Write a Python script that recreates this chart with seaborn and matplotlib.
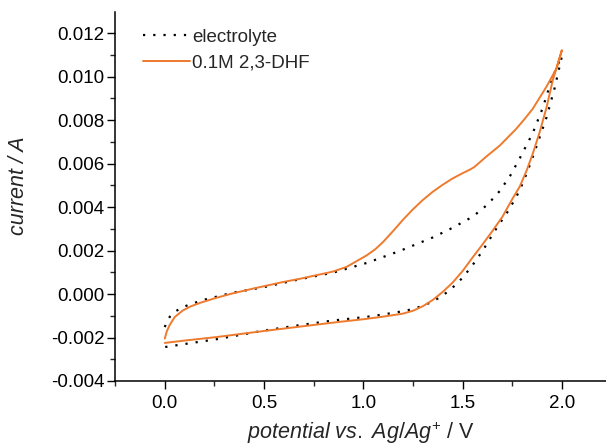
import numpy as np
import pandas as pd
import matplotlib
matplotlib.use("Agg")
import matplotlib.pyplot as plt
import seaborn as sns
from matplotlib.ticker import MultipleLocator

# cyclic scan, forward then reverse
dhf_potential = [0.000, 0.010, 0.025, 0.050, 0.090, 0.130, 0.180, 0.250, 0.342, 0.450,
                 0.594, 0.680, 0.846, 0.916, 1.017, 1.060, 1.100, 1.150, 1.200, 1.250,
                 1.300, 1.349, 1.400, 1.450, 1.500, 1.536, 1.560, 1.620, 1.687, 1.770,
                 1.810, 1.853, 1.923, 1.974, 2.000,
                 1.954, 1.923, 1.888, 1.853, 1.823, 1.788, 1.752, 1.700, 1.650, 1.600,
                 1.550, 1.500, 1.450, 1.400, 1.350, 1.300, 1.250, 1.200, 1.100, 1.000,
                 0.880, 0.680, 0.500, 0.260, 0.100, 0.000]
dhf_current = [-0.00205, -0.00172, -0.00142, -0.00106, -0.00076, -0.00057, -0.00040, -0.00020, 0.00003, 0.00026,
               0.00055, 0.00070, 0.00103, 0.00125, 0.00178, 0.00206, 0.00240, 0.00290, 0.00342, 0.00390,
               0.00433, 0.00470, 0.00503, 0.00532, 0.00556, 0.00572, 0.00585, 0.00633, 0.00683, 0.00760,
               0.00803, 0.00852, 0.00955, 0.01040, 0.01122,
               0.00984, 0.00860, 0.00745, 0.00645, 0.00570, 0.00495, 0.00440, 0.00355, 0.00290, 0.00228,
               0.00168, 0.00106, 0.00053, 0.00010, -0.00027, -0.00056, -0.00077, -0.00090, -0.00104, -0.00116,
               -0.00128, -0.00150, -0.00170, -0.00198, -0.00214, -0.00225]

el_potential = [0.000, 0.010, 0.025, 0.050, 0.090, 0.190, 0.342, 0.500, 0.680, 0.846,
                1.017, 1.183, 1.349, 1.450, 1.551, 1.626, 1.687, 1.740, 1.788, 1.853,
                1.903, 1.940, 1.974, 2.000,
                1.964, 1.923, 1.888, 1.853, 1.823, 1.788, 1.752, 1.722, 1.672, 1.600,
                1.550, 1.500, 1.450, 1.400, 1.350, 1.300, 1.250, 1.200, 1.100, 1.017,
                0.846, 0.680, 0.500, 0.260, 0.100, 0.000]
el_current = [-0.00152, -0.00128, -0.00105, -0.00082, -0.00060, -0.00028, 0.00006, 0.00032, 0.00068, 0.00098,
              0.00143, 0.00198, 0.00260, 0.00305, 0.00356, 0.00412, 0.00474, 0.00545, 0.00625, 0.00740,
              0.00855, 0.00962, 0.01045, 0.01095,
              0.00950, 0.00814, 0.00722, 0.00630, 0.00556, 0.00478, 0.00418, 0.00372, 0.00305, 0.00198,
              0.00133, 0.00075, 0.00030, -0.00007, -0.00034, -0.00054, -0.00069, -0.00079, -0.00094, -0.00105,
              -0.00122, -0.00143, -0.00168, -0.00208, -0.00230, -0.00244]

el = pd.DataFrame({"potential": el_potential, "current": el_current})
dhf = pd.DataFrame({"potential": dhf_potential, "current": dhf_current})

sns.set_style("ticks")
plt.rcParams["font.family"] = ["Liberation Sans", "DejaVu Sans"]
plt.rcParams["mathtext.fontset"] = "custom"
plt.rcParams["mathtext.it"] = "Liberation Sans:italic"
plt.rcParams["mathtext.rm"] = "Liberation Sans"

fig = plt.figure(figsize=(6.06, 4.48), dpi=100)
ax = fig.add_axes([0.19, 0.1496, 0.81, 0.8234])

sns.lineplot(data=el, x="potential", y="current", sort=False, estimator=None,
             color="black", linewidth=1.6, linestyle=(0, (1, 3.6)), label="electrolyte", ax=ax)
sns.lineplot(data=dhf, x="potential", y="current", sort=False, estimator=None,
             color="#EE7A2E", linewidth=1.4, label="0.1M 2,3-DHF", ax=ax)

ax.set_xlim(-0.25, 2.222)
ax.set_ylim(-0.004, 0.01297)
ax.xaxis.set_major_locator(MultipleLocator(0.5))
ax.xaxis.set_minor_locator(MultipleLocator(0.25))
ax.yaxis.set_major_locator(MultipleLocator(0.002))
ax.yaxis.set_minor_locator(MultipleLocator(0.001))
ax.xaxis.set_major_formatter(plt.FuncFormatter(lambda v, p: f"{v:.1f}"))
ax.yaxis.set_major_formatter(plt.FuncFormatter(lambda v, p: f"{v:.3f}"))
ax.tick_params(which="major", direction="out", length=6, width=1.0, labelsize=13.5, colors="black")
ax.tick_params(axis="y", which="major", pad=1.5)
ax.tick_params(axis="x", which="major", pad=4)
ax.tick_params(which="minor", direction="out", length=3.5, width=1.0)
sns.despine(ax=ax)
for s in ["left", "bottom"]:
    ax.spines[s].set_linewidth(1.1)
    ax.spines[s].set_color("black")

ax.set_xlabel(r"$\it{potential\ vs.\ Ag/Ag^{+}}$ / V", fontsize=15.5)
ax.set_ylabel("current / A", fontsize=15.5, style="italic")
ax.xaxis.set_label_coords(0.5, -0.105)
ax.yaxis.set_label_coords(-0.176, 0.53)

ax.legend(loc="upper left", bbox_to_anchor=(0.057, 0.955), frameon=False, fontsize=13.5,
          handlelength=2.5, handletextpad=0.1, labelspacing=0.45, borderaxespad=0, borderpad=0)

fig.savefig("out.png", dpi=100)
